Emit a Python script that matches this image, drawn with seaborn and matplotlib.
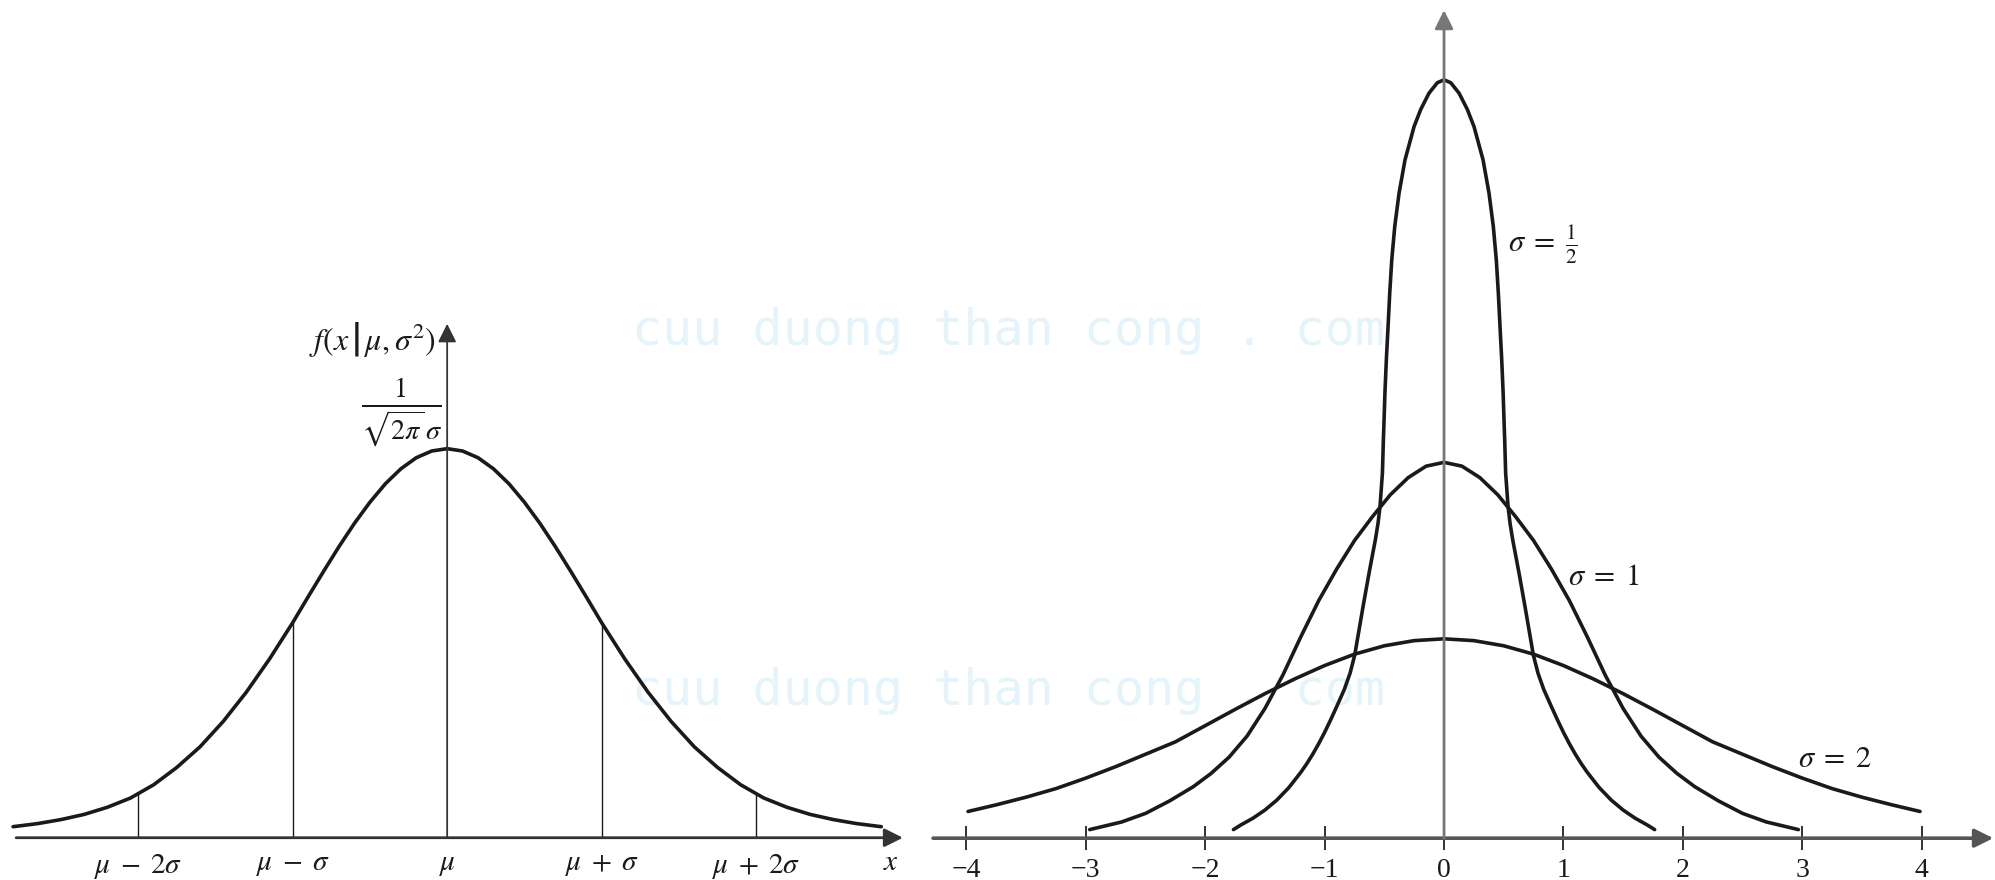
import numpy as np
import matplotlib
matplotlib.use("Agg")
import matplotlib.pyplot as plt
import seaborn as sns

# ---- data (curves are symmetric, right halves listed) ----
# left panel: x in units of sigma from mu, y = density height
LEFT_X = [0.0, 0.1, 0.2, 0.3, 0.4, 0.5, 0.6, 0.7, 0.8, 0.9, 1.0, 1.15, 1.3, 1.45,
          1.6, 1.75, 1.9, 2.05, 2.2, 2.35, 2.5, 2.65, 2.81]
LEFT_Y = [0.399, 0.3966, 0.3897, 0.3783, 0.363, 0.3441, 0.3225, 0.2986, 0.2732, 0.2471,
          0.2205, 0.1833, 0.1493, 0.1192, 0.0932, 0.0721, 0.0543, 0.0407, 0.0312, 0.0239,
          0.0186, 0.0145, 0.0113]
LEFT_TICKS = [-2, -1, 0, 1, 2]
LEFT_TICK_LABELS = [r"$\mu\;-\;2\sigma$", r"$\mu\;-\;\sigma$", r"$\mu$",
                    r"$\mu\;+\;\sigma$", r"$\mu\;+\;2\sigma$"]
LEFT_GUIDE_X = [-2, -1, 1, 2]
LEFT_GUIDE_TOP = [0.045, 0.2205, 0.2205, 0.045]

# right panel
HALF_X = {
    "0.5": [0.0, 0.056, 0.126, 0.195, 0.251, 0.327, 0.377, 0.413, 0.438, 0.455, 0.469,
            0.483, 0.495, 0.504, 0.508, 0.516, 0.536, 0.553, 0.575, 0.628, 0.678, 0.748,
            0.787, 0.835, 0.899, 0.95, 1.0, 1.05, 1.1, 1.15, 1.2, 1.3, 1.4, 1.5, 1.6,
            1.7, 1.764],
    "1": [0.0, 0.15, 0.3, 0.45, 0.6, 0.75, 0.9, 1.05, 1.2, 1.35, 1.5, 1.65, 1.8, 1.95,
          2.1, 2.3, 2.5, 2.7, 2.968],
    "2": [0.0, 0.25, 0.5, 0.75, 1.0, 1.25, 1.5, 1.75, 2.0, 2.25, 2.5, 2.75, 3.0, 3.25,
          3.5, 3.75, 3.987],
}
HALF_Y = {
    "0.5": [0.795, 0.792, 0.781, 0.764, 0.746, 0.711, 0.676, 0.641, 0.606, 0.571, 0.536,
            0.502, 0.467, 0.432, 0.418, 0.383, 0.348, 0.330, 0.313, 0.278, 0.243, 0.192,
            0.173, 0.156, 0.138, 0.124, 0.111, 0.099, 0.088, 0.078, 0.069, 0.053, 0.040,
            0.0295, 0.021, 0.014, 0.009],
    "1": [0.394, 0.390, 0.378, 0.360, 0.337, 0.312, 0.282, 0.249, 0.211, 0.171, 0.136,
          0.107, 0.085, 0.068, 0.054, 0.039, 0.026, 0.017, 0.009],
    "2": [0.209, 0.2071, 0.2017, 0.1929, 0.181, 0.167, 0.1515, 0.135, 0.118, 0.101,
          0.088, 0.075, 0.063, 0.052, 0.043, 0.035, 0.028],
}
SIGMA_LABELS = {"0.5": r"$\sigma\;=\;\frac{1}{2}$", "1": r"$\sigma\;=\;1$", "2": r"$\sigma\;=\;2$"}
SIGMA_LABEL_POS = {"0.5": (0.535, 0.622), "1": (1.04, 0.273), "2": (2.965, 0.083)}
RIGHT_TICKS = [-4, -3, -2, -1, 0, 1, 2, 3, 4]
RIGHT_TICK_LABELS = ["\u22124", "\u22123", "\u22122", "\u22121", "0", "1", "2", "3", "4"]

WATERMARK = "cuu duong than cong . com"


def mirrored(xh, yh):
    # the drawing is symmetric about 0: left half is the right half reflected
    xh, yh = np.asarray(xh), np.asarray(yh)
    return np.r_[-xh[::-1], xh[1:]], np.r_[yh[::-1], yh[1:]]


sns.set_theme(style="white")
plt.rcParams["font.family"] = ["Liberation Serif", "DejaVu Serif"]
plt.rcParams["mathtext.fontset"] = "stix"

INK = "#1a1a1a"
CURVE = dict(color=INK, lw=2.6, sort=False, solid_joinstyle="round", solid_capstyle="round")

fig = plt.figure(figsize=(19.95, 8.8), dpi=100)
fig.patch.set_facecolor("white")

for yy in (1 - 331 / 880, 1 - 691 / 880):
    fig.text(632 / 1995, yy, WATERMARK, family="DejaVu Sans Mono", fontsize=36,
             color="#e4f4fa", ha="left", va="center", zorder=-1)

axL = fig.add_axes([0.005, 0.0148, 0.4499, 0.6205])
axR = fig.add_axes([0.4665, 0.0150, 0.5356, 0.981])

for ax in (axL, axR):
    ax.patch.set_alpha(0)
    for s in ax.spines.values():
        s.set_visible(False)
    ax.spines["bottom"].set_position(("data", 0))
    ax.set_yticks([])
    ax.grid(False)

# ---- left panel ---------------------------------------------------------
axL.set_xlim(-2.83, 2.98)
axL.set_ylim(-0.03, 0.53)
lx, ly = mirrored(LEFT_X, LEFT_Y)
sns.lineplot(x=lx, y=ly, ax=axL, **CURVE)
axL.vlines(LEFT_GUIDE_X, 0, LEFT_GUIDE_TOP, color=INK, lw=1.0)
axL.annotate("", xy=(2.95, 0), xytext=(-2.79, 0),
             arrowprops=dict(arrowstyle="-|>", color="#333333", lw=2.0, mutation_scale=28,
                             shrinkA=0, shrinkB=0))
axL.annotate("", xy=(0, 0.527), xytext=(0, 0),
             arrowprops=dict(arrowstyle="-|>", color="#333333", lw=1.3, mutation_scale=28,
                             shrinkA=0, shrinkB=0))
axL.set_xticks(LEFT_TICKS)
axL.set_xticklabels(LEFT_TICK_LABELS)
axL.tick_params(axis="x", length=0, pad=10, labelsize=21, colors=INK)
axL.text(2.87, -0.026, r"$x$", fontsize=21, ha="center", va="center", color=INK)
axL.text(-0.07, 0.511, r"$f(x\,\left|\,\mu,\sigma^2\right.)$", fontsize=23, ha="right",
         va="center", color=INK)
axL.text(-0.29, 0.437, r"$\frac{1}{\sqrt{2\pi}\,\sigma}$", fontsize=29, ha="center",
         va="center", color=INK)

# ---- right panel ----------------------------------------------------------
axR.set_xlim(-4.3, 4.65)
axR.set_ylim(-0.03, 0.875)
for key in HALF_X:
    cx, cy = mirrored(HALF_X[key], HALF_Y[key])
    sns.lineplot(x=cx, y=cy, ax=axR, **CURVE)
    tx, ty = SIGMA_LABEL_POS[key]
    axR.text(tx, ty, SIGMA_LABELS[key], fontsize=22, ha="left", va="center", color=INK)
axR.annotate("", xy=(4.6, 0), xytext=(-4.28, 0),
             arrowprops=dict(arrowstyle="-|>", color="#555555", lw=2.6, mutation_scale=28,
                             shrinkA=0, shrinkB=0))
axR.annotate("", xy=(0, 0.868), xytext=(0, 0),
             arrowprops=dict(arrowstyle="-|>", color="#777777", lw=2.0, mutation_scale=28,
                             shrinkA=0, shrinkB=0))
axR.set_xticks(RIGHT_TICKS)
axR.set_xticklabels(RIGHT_TICK_LABELS)
axR.tick_params(axis="x", direction="inout", length=17, width=1.4, color="#333333",
                pad=6, labelsize=20, labelcolor=INK, bottom=True)

fig.savefig("out.png", dpi=100, facecolor="white")
